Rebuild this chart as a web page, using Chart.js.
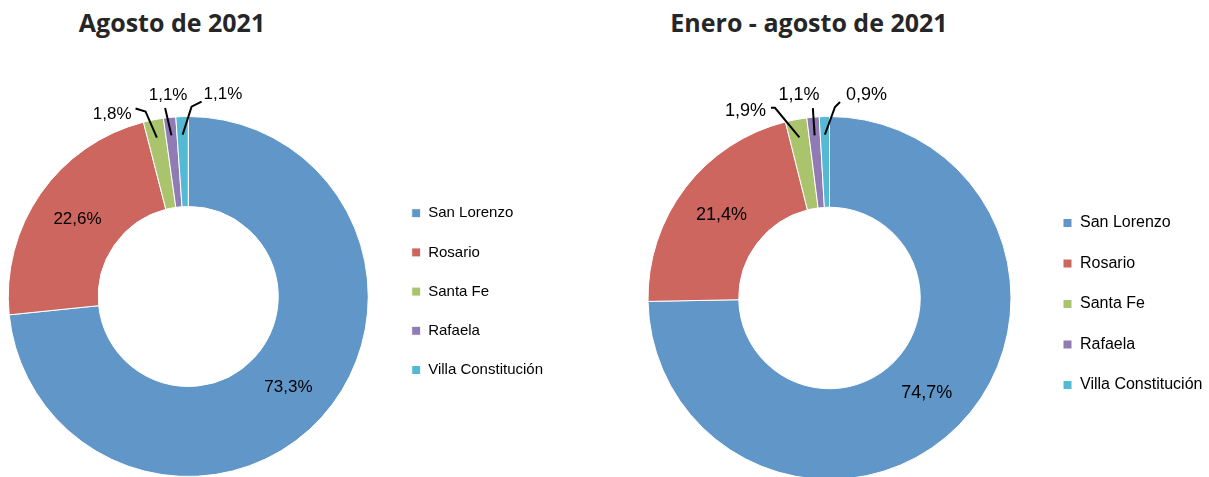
<!DOCTYPE html>
<html lang="es">
<head>
<meta charset="utf-8">
<title>Agosto de 2021 / Enero - agosto de 2021</title>
<script src="https://cdn.jsdelivr.net/npm/chart.js@4.4.1/dist/chart.umd.min.js"></script>
<style>
  html, body { margin: 0; padding: 0; background: #fff; overflow: hidden; }
  body { width: 1209px; height: 477px; position: relative; }
  .titulo {
    position: absolute; top: 10px; width: 400px; text-align: center;
    font-family: 'Open Sans', sans-serif; font-weight: 700; font-size: 25px; line-height: 25px;
    color: #262626;
  }
  .panel { position: absolute; top: 0; }
</style>
</head>
<body>
<div class="titulo" style="left:-28px">Agosto de 2021</div>
<div class="titulo" style="left:609px">Enero - agosto de 2021</div>
<div class="panel" style="left:-11px"><canvas id="chart-agosto" width="600" height="477"></canvas></div>
<div class="panel" style="left:620px"><canvas id="chart-acumulado" width="600" height="480"></canvas></div>

<script>
// --- data ---
const ciudades = ['San Lorenzo', 'Rosario', 'Santa Fe', 'Rafaela', 'Villa Constitución'];
const agosto2021 = [73.3, 22.6, 1.8, 1.1, 1.1];
const eneroAgosto2021 = [74.7, 21.4, 1.9, 1.1, 0.9];

const colores = ['#6097c8', '#cd665e', '#aac46e', '#917bb5', '#54b9d3'];
const FONT = '"Liberation Sans", Arial, sans-serif';
const BOX = 9;

function formatPct(v) {
    return v.toFixed(1).replace('.', ',') + '%';
}

// width Chart.js will give the vertical legend (padding + box + gap + text + 10)
function legendWidth(o) {
    const ctx = document.createElement('canvas').getContext('2d');
    ctx.font = `${o.legendFont}px ${FONT}`;
    const textW = Math.max(...ciudades.map(t => ctx.measureText(t).width));
    return o.legendGap + BOX + o.legendFont / 2 + textW + 10;
}

// --- labels on the ring, with leader lines for the small slices ---
const etiquetasPlugin = {
    id: 'etiquetas',
    afterDatasetsDraw(chart, args, opts) {
        const ctx = chart.ctx;
        const meta = chart.getDatasetMeta(0);
        const values = chart.data.datasets[0].data;
        ctx.save();
        ctx.font = `${opts.fontSize}px ${FONT}`;
        ctx.fillStyle = '#000';
        ctx.strokeStyle = '#000';
        ctx.lineWidth = 2;
        ctx.textBaseline = 'middle';
        meta.data.forEach((arc, i) => {
            const { x, y, startAngle, endAngle, innerRadius, outerRadius } =
                arc.getProps(['x', 'y', 'startAngle', 'endAngle', 'innerRadius', 'outerRadius'], true);
            const mid = (startAngle + endAngle) / 2;
            const text = formatPct(values[i]);
            const c = opts.callouts[i];
            if (!c) {
                const r = (innerRadius + outerRadius) / 2;
                ctx.textAlign = 'center';
                ctx.fillText(text, x + Math.cos(mid) * r, y + Math.sin(mid) * r);
                return;
            }
            const a = (c.angle - 90) * Math.PI / 180;
            const x0 = x + Math.cos(mid) * outerRadius * 0.9;
            const y0 = y + Math.sin(mid) * outerRadius * 0.9;
            const x1 = x + Math.cos(a) * outerRadius * c.radius;
            const y1 = y + Math.sin(a) * outerRadius * c.radius;
            const x2 = x1 + c.tick[0], y2 = y1 + c.tick[1];
            ctx.beginPath();
            ctx.moveTo(x0, y0);
            ctx.lineTo(x1, y1);
            ctx.lineTo(x2, y2);
            ctx.stroke();
            ctx.textAlign = c.align;
            ctx.fillText(text, x2 + c.label[0], y2 + c.label[1]);
        });
        ctx.restore();
    }
};

function makeDonut(canvasId, values, o) {
    const canvas = document.getElementById(canvasId);
    const padRight = canvas.width - o.chartRight - legendWidth(o);
    return new Chart(canvas, {
        type: 'doughnut',
        data: {
            labels: ciudades,
            datasets: [{
                data: values,
                backgroundColor: colores,
                borderColor: '#ffffff',
                borderWidth: 1,
                hoverOffset: 0
            }]
        },
        options: {
            responsive: false,
            animation: false,
            events: [],
            cutout: '50%',
            layout: { padding: { left: o.chartLeft, top: 116, right: padRight, bottom: 0 } },
            plugins: {
                tooltip: { enabled: false },
                legend: {
                    position: 'right',
                    fullSize: false,
                    align: 'start',
                    title: { display: true, text: '', font: { size: 10 }, padding: { top: o.legendTop, bottom: 0 } },
                    labels: {
                        color: '#000',
                        font: { family: FONT, size: o.legendFont },
                        boxWidth: BOX,
                        boxHeight: BOX,
                        padding: o.legendGap
                    }
                },
                etiquetas: { fontSize: o.labelFont, callouts: o.callouts }
            }
        },
        plugins: [etiquetasPlugin]
    });
}

makeDonut('chart-agosto', agosto2021, {
    chartLeft: 0, chartRight: 398.5,
    legendTop: 53.5, legendFont: 15, legendGap: 24.2, labelFont: 17,
    callouts: {
        2: { angle: -13, radius: 1.055, tick: [-10, -3], label: [-4, 6], align: 'right' },
        3: { angle: -7, radius: 1.055, tick: [0, 0], label: [3, -13], align: 'center' },
        4: { angle: 1, radius: 1.055, tick: [10, -5], label: [2, -7], align: 'left' }
    }
});

makeDonut('chart-acumulado', eneroAgosto2021, {
    chartLeft: 0.5, chartRight: 418.5,
    legendTop: 62.5, legendFont: 16, legendGap: 24.5, labelFont: 18,
    callouts: {
        2: { angle: -16, radius: 1.09, tick: [-4, 0], label: [-5, 3], align: 'right' },
        3: { angle: -5, radius: 1.05, tick: [0, 0], label: [-14, -13], align: 'center' },
        4: { angle: 1.65, radius: 1.053, tick: [5, -5], label: [6, -7], align: 'left' }
    }
});
</script>
</body>
</html>
